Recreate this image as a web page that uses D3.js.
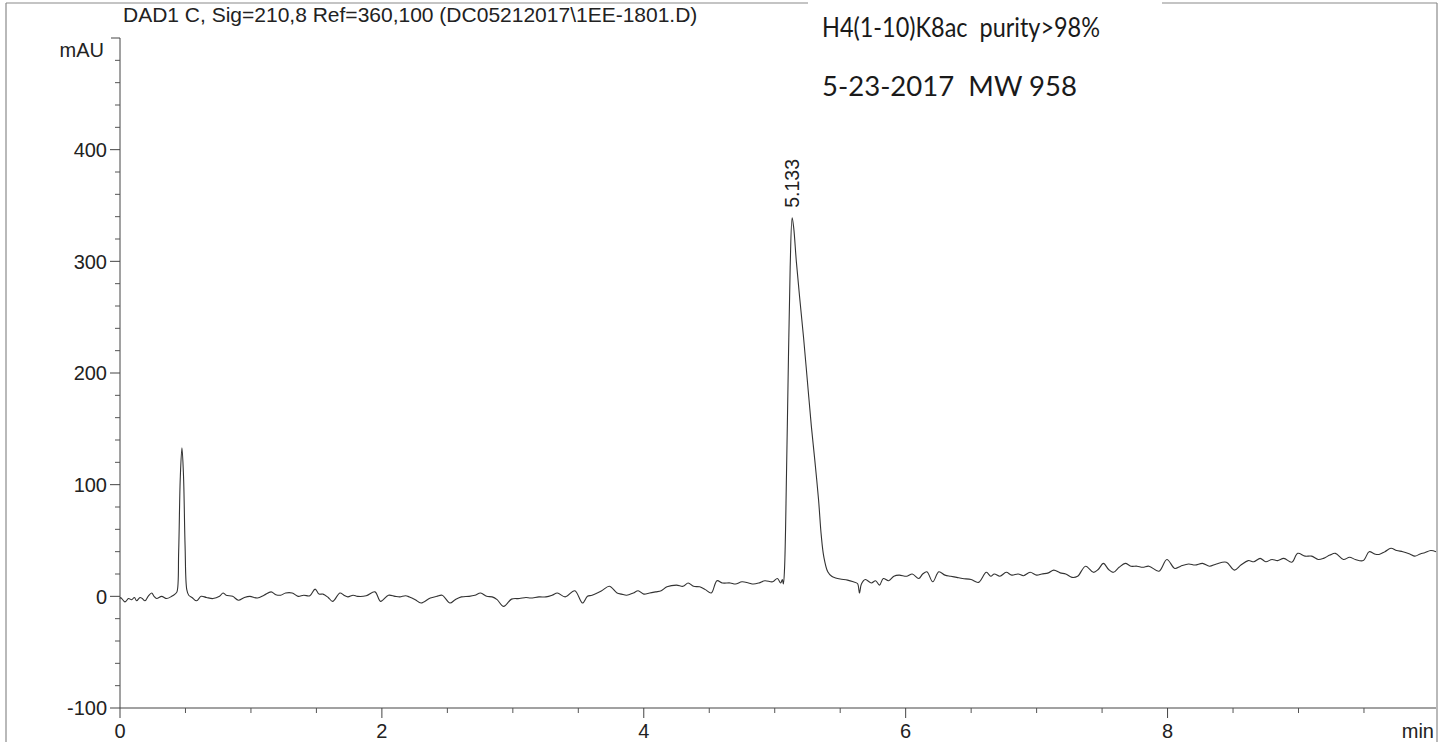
<!DOCTYPE html>
<html>
<head>
<meta charset="utf-8">
<script src="https://cdn.jsdelivr.net/npm/d3@7"></script>
<style>
  html, body { margin: 0; padding: 0; background: #fff; }
  svg { display: block; }
  .ax text { font-family: "Liberation Sans", Arial, sans-serif; fill: #222; }
  .note { white-space: pre; }
</style>
</head>
<body>
<svg id="chart" width="1442" height="742"></svg>
<script>
// Retention time (min) and detector response (mAU) for the DAD1 C trace
const times = [
  0.00, 0.005, 0.038, 0.065, 0.089, 0.110, 0.127, 0.153, 0.170, 0.191, 0.215, 0.242, 0.260, 0.280, 0.318, 0.356, 0.395, 0.420,
  0.435, 0.448, 0.460, 0.473, 0.485, 0.497, 0.510, 0.525, 0.550, 0.585, 0.620, 0.660, 0.710, 0.760,
  0.787, 0.81, 0.86, 0.904, 0.95, 0.992, 1.05, 1.10, 1.154, 1.19, 1.227, 1.265, 1.315, 1.36, 1.403, 1.45, 1.49, 1.52,
  1.55, 1.59, 1.624, 1.68, 1.71, 1.74, 1.78, 1.815, 1.88, 1.947, 1.99, 2.05, 2.10, 2.137, 2.18, 2.21, 2.255, 2.299,
  2.37, 2.42, 2.46, 2.52, 2.56, 2.607, 2.666, 2.71, 2.754, 2.80, 2.842, 2.88, 2.93, 2.99, 3.05, 3.10, 3.136, 3.20,
  3.253, 3.30, 3.34, 3.40, 3.473, 3.532, 3.57, 3.605, 3.679, 3.737, 3.796, 3.83, 3.869, 3.92, 3.957, 4.00, 4.045,
  4.09, 4.133, 4.177, 4.25, 4.30, 4.339, 4.38, 4.427, 4.47, 4.515, 4.559, 4.60, 4.66, 4.70, 4.75, 4.80, 4.837, 4.88,
  4.925, 4.984, 5.02, 5.045, 5.058, 5.066,
  5.075, 5.090, 5.105, 5.118, 5.133, 5.145, 5.165, 5.190, 5.220, 5.250, 5.280, 5.306, 5.335, 5.355, 5.374, 5.405,
  5.435, 5.465, 5.50, 5.556, 5.60, 5.632, 5.647, 5.662, 5.692, 5.738, 5.77, 5.80, 5.829, 5.87, 5.91, 5.95, 6.01,
  6.05, 6.10, 6.13, 6.162, 6.207, 6.253, 6.30, 6.344, 6.39, 6.435, 6.50, 6.556, 6.616, 6.65, 6.677, 6.72, 6.768,
  6.81, 6.859, 6.90, 6.95, 7.00, 7.04, 7.09, 7.131, 7.18, 7.222, 7.27, 7.313, 7.374, 7.434, 7.47, 7.51, 7.55, 7.586,
  7.63, 7.677, 7.72, 7.767, 7.81, 7.858, 7.934, 7.995, 8.055, 8.10, 8.161, 8.21, 8.267, 8.32, 8.373, 8.449, 8.51,
  8.56, 8.616, 8.66, 8.707, 8.75, 8.797, 8.84, 8.888, 8.949, 8.994, 9.05, 9.10, 9.15, 9.191, 9.24, 9.282, 9.343,
  9.39, 9.434, 9.494, 9.54, 9.58, 9.615, 9.66, 9.706, 9.75, 9.797, 9.85, 9.888, 9.93, 9.964, 10.01, 10.05
];
const absorbance = [
  -2, -1, -5, -2, -3, -1, -4, -1, -2, -4, 0, 3, 0, -2, 0, -2, 0, 2,
  4, 40, 105, 133, 108, 45, 6, 1, -1, -4, 0, -1, -2, 0,
  3, 1, 0, -3.5, -1, 0, -1.5, 1, 4, 1.5, 1, 3, 3, 0, 1, 0.5, 6.5, 2,
  2, -1, -4.5, 3, 1, -0.5, 1, 0, 0.5, 4, -4.5, 1, 0, -0.5, 0.5, -0.5, -3, -6,
  -1.5, 0, 1, -6, -3, -0.5, 0, 1, 3, 0, -0.5, -3, -9, -2.5, -2, -1, -1.5, -0.5,
  -0.5, 1, 3, -0.5, 5, -6, 0, 1, 5, 9, 3, 2, 1, 3, 5, 2, 3,
  4, 5, 8.5, 10, 9, 12, 9, 8.5, 6, 3, 14, 12, 12, 11, 13, 12, 11, 12,
  14, 13, 16, 12, 15, 11,
  25, 110, 215, 295, 339, 330, 300, 268, 232, 192, 152, 122, 86, 55, 36, 22,
  18, 16.5, 15.5, 14.5, 13, 11.5, 3, 11, 15, 12, 14, 10, 16, 14, 18, 19, 18,
  20, 16, 20, 22, 13, 22, 19, 18, 17, 16, 15, 12.5, 21.5, 18, 20, 18, 21.5,
  19, 20, 18.5, 21.5, 19, 20, 21, 23.5, 21, 20, 17, 18, 27, 21.5, 24, 29.5, 24, 21.5,
  26, 29.5, 27, 27, 26, 27, 22.5, 33, 25, 27, 29, 28, 29.5, 27, 29, 30.5, 23.5,
  28, 32, 31, 34, 31, 33, 32, 34, 30.5, 38.5, 36, 36, 33, 34, 37, 38.5, 33,
  35, 33, 32, 40, 38, 37.5, 40, 43, 41, 40, 38, 36, 38, 39, 41, 40
];

// Labelled peak
const peakTimes = [5.133];
const peakHeights = [339];

// Axis ticks
const xMajorTicks = [0, 2, 4, 6, 8];
const xMinorTicks = [0.5, 1, 1.5, 2.5, 3, 3.5, 4.5, 5, 5.5, 6.5, 7, 7.5, 8.5, 9, 9.5];
const yMajorTicks = [-100, 0, 100, 200, 300, 400];
const yMinorTicks = [-80, -60, -40, -20, 20, 40, 60, 80, 120, 140, 160, 180, 220, 240, 260, 280, 320, 340, 360, 380, 420, 440, 460, 480];

const headerText = "DAD1 C, Sig=210,8 Ref=360,100 (DC05212017\\1EE-1801.D)";
const noteLines = ["H4(1-10)K8ac  purity>98%", "5-23-2017  MW 958"];
const noteWidths = [278, 255];

const svg = d3.select("#chart");

const plotLeft = 120, plotRight = 1436, plotTop = 38, plotBottom = 708;
const x = d3.scaleLinear().domain([0, 10.05]).range([plotLeft, plotRight]);
const y = d3.scaleLinear().domain([-100, 500]).range([plotBottom, plotTop]);

// page frame
const frame = svg.append("g").attr("stroke", "#8a8a8a").attr("stroke-width", 1.2).attr("fill", "none");
frame.append("line").attr("x1", 6).attr("x2", 6).attr("y1", 3).attr("y2", 742);
frame.append("line").attr("x1", 1437).attr("x2", 1437).attr("y1", 3).attr("y2", 742);
frame.append("line").attr("x1", 6).attr("x2", 808).attr("y1", 3).attr("y2", 3);
frame.append("line").attr("x1", 1162).attr("x2", 1437).attr("y1", 3).attr("y2", 3);

// signal description
svg.append("text")
  .attr("x", 123).attr("y", 22)
  .attr("font-family", "Liberation Sans, Arial, sans-serif")
  .attr("font-size", 21)
  .attr("fill", "#222")
  .text(headerText);

// sample notes
svg.append("g").selectAll("text").data(noteLines).join("text")
  .attr("class", "note")
  .attr("x", 822)
  .attr("y", (d, i) => 37 + i * 59)
  .attr("font-family", "Lato, 'Open Sans', sans-serif")
  .attr("font-size", 26)
  .attr("fill", "#1a1a1a")
  .attr("textLength", (d, i) => noteWidths[i])
  .attr("lengthAdjust", "spacingAndGlyphs")
  .text(d => d);

// y axis
const yAxis = svg.append("g").attr("class", "ax");
yAxis.append("line").attr("x1", plotLeft).attr("x2", plotLeft).attr("y1", y(500)).attr("y2", plotBottom)
  .attr("stroke", "#444").attr("stroke-width", 1);
yAxis.append("line").attr("x1", plotLeft - 9).attr("x2", plotLeft).attr("y1", y(500)).attr("y2", y(500))
  .attr("stroke", "#444");
yAxis.selectAll(".ymaj").data(yMajorTicks).join("line")
  .attr("x1", plotLeft - 10).attr("x2", plotLeft).attr("y1", d => y(d)).attr("y2", d => y(d))
  .attr("stroke", "#444");
yAxis.selectAll(".ymin").data(yMinorTicks).join("line")
  .attr("x1", plotLeft - 5).attr("x2", plotLeft).attr("y1", d => y(d)).attr("y2", d => y(d))
  .attr("stroke", "#555");
yAxis.selectAll("text.yl").data(yMajorTicks).join("text")
  .attr("class", "yl")
  .attr("x", plotLeft - 13).attr("y", d => y(d)).attr("dy", "0.36em")
  .attr("text-anchor", "end").attr("font-size", 20)
  .text(d => d);
yAxis.append("text").attr("x", plotLeft - 16).attr("y", 57)
  .attr("text-anchor", "end").attr("font-size", 20).text("mAU");

// x axis
const xAxis = svg.append("g").attr("class", "ax");
xAxis.append("line").attr("x1", plotLeft).attr("x2", plotRight).attr("y1", plotBottom).attr("y2", plotBottom)
  .attr("stroke", "#444").attr("stroke-width", 1);
xAxis.selectAll(".xmaj").data(xMajorTicks).join("line")
  .attr("x1", d => x(d)).attr("x2", d => x(d)).attr("y1", plotBottom).attr("y2", plotBottom + 10)
  .attr("stroke", "#444");
xAxis.selectAll(".xmin").data(xMinorTicks).join("line")
  .attr("x1", d => x(d)).attr("x2", d => x(d)).attr("y1", plotBottom).attr("y2", plotBottom + 5)
  .attr("stroke", "#555");
xAxis.selectAll("text.xl").data(xMajorTicks).join("text")
  .attr("class", "xl")
  .attr("x", d => x(d)).attr("y", 738)
  .attr("text-anchor", "middle").attr("font-size", 20)
  .text(d => d);
xAxis.append("text").attr("x", 1434).attr("y", 738)
  .attr("text-anchor", "end").attr("font-size", 20).text("min");

// chromatogram trace
const trace = times.map((t, i) => [t, absorbance[i]]);
svg.append("path")
  .datum(trace)
  .attr("fill", "none")
  .attr("stroke", "#333")
  .attr("stroke-width", 1.1)
  .attr("stroke-linejoin", "round")
  .attr("d", d3.line().x(d => x(d[0])).y(d => y(d[1])).curve(d3.curveCatmullRom.alpha(0.5)));

// retention time label of the main peak
svg.append("g").attr("class", "ax").selectAll("text").data(peakTimes).join("text")
  .attr("transform", (d, i) => `translate(${x(d) + 7},${y(peakHeights[i]) - 10}) rotate(-90)`)
  .attr("font-size", 19.5)
  .text(d => d.toFixed(3));
</script>
</body>
</html>
